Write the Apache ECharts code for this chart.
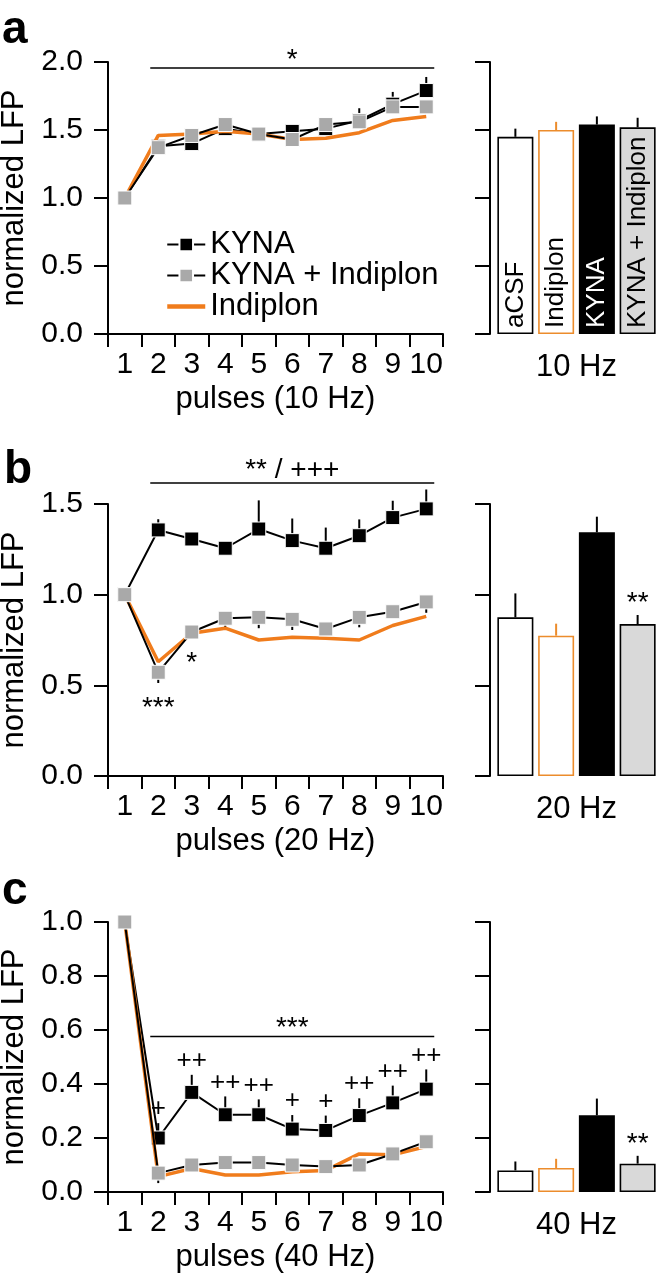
<!DOCTYPE html>
<html><head><meta charset="utf-8">
<script src="https://cdn.jsdelivr.net/npm/echarts@6/dist/echarts.min.js"></script>
<style>html,body{margin:0;padding:0;background:#fff}#c{width:657px;height:1280px}</style>
</head><body><div id="c"></div>
<script>
// ---------- data ----------
const pulses = ['1','2','3','4','5','6','7','8','9','10'];
const barCats = ['aCSF','Indiplon','KYNA','KYNA + Indiplon'];

// panel a : 10 Hz
const kynaA       = [1.0,1.38,1.40,1.51,1.47,1.49,1.51,1.57,1.69,1.79];
const kynaErrA    = [1.0,1.40,1.42,1.53,1.50,1.52,1.53,1.66,1.78,1.89];
const kynaIndA    = [1.0,1.37,1.46,1.54,1.47,1.43,1.54,1.56,1.67,1.67];
const kynaIndErrA = [1.0,1.34,1.43,1.51,1.44,1.40,1.51,1.53,1.64,1.64];
const indA        = [1.0,1.46,1.47,1.49,1.47,1.43,1.44,1.48,1.57,1.60];
const barA        = [1.45,1.50,1.54,1.52];
const barErrA     = [1.51,1.56,1.60,1.59];

// panel b : 20 Hz
const kynaB       = [1.0,1.357,1.307,1.256,1.362,1.298,1.256,1.325,1.425,1.473];
const kynaErrB    = [1.0,1.416,1.33,1.28,1.52,1.42,1.37,1.415,1.518,1.58];
const kynaIndB    = [1.0,0.572,0.794,0.870,0.875,0.864,0.811,0.875,0.906,0.960];
const kynaIndErrB = [1.0,0.513,0.76,0.805,0.815,0.805,0.78,0.82,0.88,0.90];
const indB        = [1.0,0.63,0.787,0.815,0.75,0.765,0.76,0.75,0.83,0.88];
const barB        = [0.875,0.774,1.344,0.838];
const barErrB     = [1.007,0.84,1.43,0.888];

// panel c : 40 Hz
const kynaC       = [1.0,0.20,0.369,0.286,0.286,0.233,0.228,0.283,0.330,0.381];
const kynaErrC    = [1.0,0.255,0.434,0.354,0.343,0.285,0.283,0.347,0.394,0.454];
const kynaIndC    = [1.0,0.07,0.10,0.109,0.109,0.10,0.094,0.10,0.141,0.186];
const kynaIndErrC = [1.0,0.033,0.08,0.09,0.09,0.08,0.075,0.08,0.12,0.165];
const indC        = [1.0,0.057,0.087,0.063,0.063,0.075,0.08,0.141,0.138,0.168];
const barC        = [0.08,0.089,0.284,0.105];
const barErrC     = [0.113,0.123,0.346,0.134];

// annotations
const plusC   = ['','+','++','++','++','+','+','++','++','++'];
const starsB  = ['','***','*','','','','','','',''];
const barNoteA = ['','','',''];
const barNoteB = ['','','','**'];
const barNoteC = ['','','','**'];
const sigTexts = ['*','** / +++','***'];
const sigLevels = [1.956,1.616,0.576];
const yMax = [2.0,1.5,1.0];
const yStep = [0.5,0.5,0.2];
const freqs = ['10 Hz','20 Hz','40 Hz'];

// ---------- styling ----------
const FONT = 'Liberation Sans';
const ORANGE = '#f07c1c';
const ORANGE_BAR = '#ec8c2c';
const GRAY = '#a9a9a9';
const barFill   = ['#ffffff','#ffffff','#000000','#d9d9d9'];
const barBorder = ['#000000',ORANGE_BAR,'#000000','#000000'];
const barErrCol = ['#000000',ORANGE_BAR,'#000000','#000000'];
const barLabCol = ['#000000','#000000','#ffffff','#000000'];
const sigDy = [-8,-13,-8];

const panels = [
  {top:62,  h:272, kyna:kynaA, kErr:kynaErrA, ki:kynaIndA, kiErr:kynaIndErrA, ind:indA, bar:barA, barErr:barErrA, barNote:barNoteA, plus:null, stars:null},
  {top:504, h:272, kyna:kynaB, kErr:kynaErrB, ki:kynaIndB, kiErr:kynaIndErrB, ind:indB, bar:barB, barErr:barErrB, barNote:barNoteB, plus:null, stars:starsB},
  {top:922, h:270, kyna:kynaC, kErr:kynaErrC, ki:kynaIndC, kiErr:kynaIndErrC, ind:indC, bar:barC, barErr:barErrC, barNote:barNoteC, plus:plusC, stars:null}
];

const grid=[], xAxis=[], yAxis=[], series=[];
const axisLine = {show:true, lineStyle:{color:'#000', width:2}};
const axisTick = (len)=>({show:true, length:len, lineStyle:{color:'#000', width:2}});

function errSeries(ax, vals, errs, colors, z){
  return {type:'custom', xAxisIndex:ax, yAxisIndex:ax, z:z, silent:true,
    data: vals.map((v,k)=>[k, v, errs[k]]),
    renderItem:(params, api)=>{
      const p0 = api.coord([api.value(0), api.value(1)]);
      const p1 = api.coord([api.value(0), api.value(2)]);
      return {type:'line', shape:{x1:p0[0], y1:p0[1], x2:p1[0], y2:p1[1]},
        style:{stroke: Array.isArray(colors)?colors[params.dataIndex]:colors, lineWidth:2}};
    }};
}
function textSeries(ax, vals, texts, dy, fs, z){
  return {type:'custom', xAxisIndex:ax, yAxisIndex:ax, z:z, silent:true,
    data: vals.map((v,k)=>[k, v]),
    renderItem:(params, api)=>{
      const t = texts[params.dataIndex];
      if(!t) return null;
      const p = api.coord([api.value(0), api.value(1)]);
      return {type:'text', x:p[0], y:p[1]+dy,
        style:{text:t, fontSize:fs, fontFamily:FONT, fill:'#000', align:'center', verticalAlign:'middle'}};
    }};
}

panels.forEach((P,i)=>{
  const li = i*2, bi = i*2+1;
  grid.push({left:108, top:P.top, width:335, height:P.h, outerBoundsMode:'none'});
  grid.push({left:495, top:P.top, width:163, height:P.h, outerBoundsMode:'none'});
  xAxis.push({gridIndex:li, type:'category', data:pulses, boundaryGap:true,
    axisLine, axisTick:axisTick(13),
    axisLabel:{interval:0, fontSize:30, color:'#000', margin:16, fontFamily:FONT},
    name:'pulses (' + freqs[i] + ')', nameLocation:'middle', nameGap:50,
    nameTextStyle:{fontSize:31, color:'#000', fontFamily:FONT}});
  xAxis.push({gridIndex:bi, type:'category', data:barCats, boundaryGap:true,
    axisLine:{show:false}, axisTick:{show:false}, axisLabel:{show:false},
    name:freqs[i], nameLocation:'middle', nameGap:18,
    nameTextStyle:{fontSize:31, color:'#000', fontFamily:FONT}});
  yAxis.push({gridIndex:li, type:'value', min:0, max:yMax[i], interval:yStep[i],
    axisLine, axisTick:axisTick(14), splitLine:{show:false},
    axisLabel:{fontSize:30, color:'#000', margin:25, fontFamily:FONT, formatter:v=>v.toFixed(1)},
    name:'normalized LFP', nameLocation:'middle', nameGap:63,
    nameTextStyle:{fontSize:31, color:'#000', fontFamily:FONT}});
  yAxis.push({gridIndex:bi, type:'value', min:0, max:yMax[i], interval:yStep[i], offset:5,
    axisLine, axisTick:axisTick(15), splitLine:{show:false}, axisLabel:{show:false}});

  // error bars of line plots (behind markers)
  series.push(errSeries(li, P.kyna, P.kErr, '#000', 1));
  series.push(errSeries(li, P.ki, P.kiErr, '#000', 1));
  series.push({name:'KYNA', type:'line', xAxisIndex:li, yAxisIndex:li, data:P.kyna, z:2,
    symbol:'rect', symbolSize:14, showAllSymbol:true,
    lineStyle:{color:'#000', width:2}, itemStyle:{color:'#000', borderColor:'#fff', borderWidth:1},
    emphasis:{disabled:true}, animation:false});
  series.push({name:'Indiplon', type:'line', xAxisIndex:li, yAxisIndex:li, data:P.ind, z:3,
    symbol:'none',
    lineStyle:{color:ORANGE, width:3.5}, itemStyle:{color:ORANGE},
    emphasis:{disabled:true}, animation:false});
  series.push({name:'KYNA + Indiplon', type:'line', xAxisIndex:li, yAxisIndex:li, data:P.ki, z:4,
    symbol:'rect', symbolSize:14, showAllSymbol:true,
    lineStyle:{color:'#000', width:2}, itemStyle:{color:GRAY, borderColor:'#fff', borderWidth:1},
    emphasis:{disabled:true}, animation:false});
  // significance line
  series.push({type:'custom', xAxisIndex:li, yAxisIndex:li, z:5, silent:true,
    data:[[1, 9, sigLevels[i]]],
    renderItem:(params, api)=>{
      const a = api.coord([api.value(0), api.value(2)]);
      const b = api.coord([api.value(1), api.value(2)]);
      const x1 = a[0]-8, x2 = b[0]+8;
      return {type:'group', children:[
        {type:'line', shape:{x1:x1, y1:a[1], x2:x2, y2:a[1]}, style:{stroke:'#000', lineWidth:1.5}},
        {type:'text', x:(x1+x2)/2, y:a[1]+sigDy[i], style:{text:sigTexts[i], fontSize:28, fontFamily:FONT, fill:'#000', align:'center', verticalAlign:'middle'}}
      ]};
    }});
  if(P.plus) series.push(textSeries(li, P.kErr, P.plus, -14, 26, 5));
  if(P.stars) series.push(textSeries(li, P.kiErr, P.stars, 25, 28, 5));

  // bars
  series.push({type:'bar', xAxisIndex:bi, yAxisIndex:bi, barWidth:36, z:2,
    data: P.bar.map((v,k)=>({value:v,
      itemStyle:{color:barFill[k], borderColor:barBorder[k], borderWidth:1.6},
      label:{show:i===0, position:'insideBottom', rotate:90, align:'left', verticalAlign:'middle',
        distance:6, fontSize:26, fontFamily:FONT, color:barLabCol[k], formatter:barCats[k]}})),
    emphasis:{disabled:true}, animation:false});
  series.push(errSeries(bi, P.bar, P.barErr, barErrCol, 1));
  series.push(textSeries(bi, P.barErr, P.barNote, -12, 28, 5));
});

const option = {
  animation:false,
  textStyle:{fontFamily:FONT},
  grid, xAxis, yAxis, series,
  legend:{data:['KYNA','KYNA + Indiplon',{name:'Indiplon', itemStyle:{opacity:0}, lineStyle:{width:4.5}}],
    orient:'vertical', left:160, top:224,
    itemWidth:38, itemHeight:17, itemGap:0, selectedMode:false,
    textStyle:{fontSize:31, color:'#000', fontFamily:FONT, lineHeight:31}},
  graphic:[
    {type:'text', x:2, y:30, style:{text:'a', fontSize:46, fontWeight:'bold', fontFamily:FONT, fill:'#000', verticalAlign:'middle'}},
    {type:'text', x:4, y:470, style:{text:'b', fontSize:46, fontWeight:'bold', fontFamily:FONT, fill:'#000', verticalAlign:'middle'}},
    {type:'text', x:2, y:891, style:{text:'c', fontSize:46, fontWeight:'bold', fontFamily:FONT, fill:'#000', verticalAlign:'middle'}}
  ]
};
const chart = echarts.init(document.getElementById('c'), null, {renderer:'canvas'});
chart.setOption(option);
</script></body></html>
